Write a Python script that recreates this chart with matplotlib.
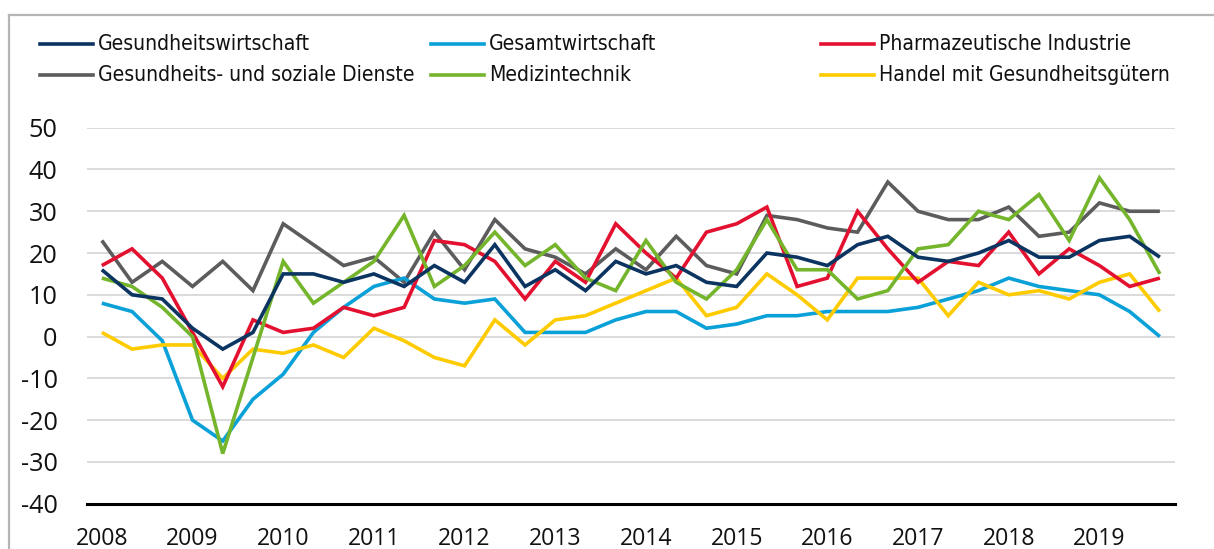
import matplotlib
matplotlib.use("Agg")
import matplotlib.pyplot as plt
from matplotlib.lines import Line2D
from matplotlib import font_manager
import numpy as np

plt.rcParams['axes.unicode_minus'] = False

years = list(range(2008, 2020))
points_per_year = 3

gesundheitswirtschaft = [16, 10, 9, 2, -3, 1, 15, 15, 13, 15, 12, 17, 13, 22, 12, 16, 11, 18,
                         15, 17, 13, 12, 20, 19, 17, 22, 24, 19, 18, 20, 23, 19, 19, 23, 24, 19]
gesamtwirtschaft = [8, 6, -1, -20, -25, -15, -9, 1, 7, 12, 14, 9, 8, 9, 1, 1, 1, 4,
                    6, 6, 2, 3, 5, 5, 6, 6, 6, 7, 9, 11, 14, 12, 11, 10, 6, 0]
pharma = [17, 21, 14, 1, -12, 4, 1, 2, 7, 5, 7, 23, 22, 18, 9, 18, 13, 27,
          20, 14, 25, 27, 31, 12, 14, 30, 21, 13, 18, 17, 25, 15, 21, 17, 12, 14]
soziale_dienste = [23, 13, 18, 12, 18, 11, 27, 22, 17, 19, 13, 25, 16, 28, 21, 19, 15, 21,
                   16, 24, 17, 15, 29, 28, 26, 25, 37, 30, 28, 28, 31, 24, 25, 32, 30, 30]
medizintechnik = [14, 12, 7, 0, -28, -5, 18, 8, 13, 18, 29, 12, 17, 25, 17, 22, 14, 11,
                  23, 13, 9, 16, 28, 16, 16, 9, 11, 21, 22, 30, 28, 34, 23, 38, 28, 15]
handel = [1, -3, -2, -2, -10, -3, -4, -2, -5, 2, -1, -5, -7, 4, -2, 4, 5, 8,
          11, 14, 5, 7, 15, 10, 4, 14, 14, 14, 5, 13, 10, 11, 9, 13, 15, 6]

series_names = ["Gesundheitswirtschaft", "Gesamtwirtschaft", "Pharmazeutische Industrie",
                "Gesundheits- und soziale Dienste", "Medizintechnik", "Handel mit Gesundheitsgütern"]
series_values = [gesundheitswirtschaft, gesamtwirtschaft, pharma,
                 soziale_dienste, medizintechnik, handel]
colors = ["#0b3461", "#0aa0d8", "#e3112f", "#5c5c5e", "#74b52c", "#fecb00"]

y_ticks = list(range(-40, 51, 10))

# pick a condensed face if one is installed
condensed = None
for f in font_manager.fontManager.ttflist:
    nm = f.name.lower()
    fn = f.fname.lower()
    if ("condensed" in fn or "narrow" in fn or "narrow" in nm or "condensed" in nm) \
            and "bold" not in fn and "oblique" not in fn and "italic" not in fn:
        condensed = f
        break

fig = plt.figure(figsize=(12.14, 5.49), dpi=100)
W, H = 1214, 549
ax = fig.add_axes([86.7 / W, 1 - 503.7 / H, (1175 - 86.7) / W, (503.7 - 127.7) / H])

x = np.arange(len(gesundheitswirtschaft))
order = [3, 1, 5, 2, 4, 0]
for k in order:
    ax.plot(x, series_values[k], color=colors[k], lw=2.6, solid_joinstyle='miter',
            solid_capstyle='butt', zorder=3)

ax.set_xlim(-0.5, len(x) - 0.5)
ax.set_ylim(-40, 50)
ax.set_yticks(y_ticks)
ax.set_yticklabels([str(v) for v in y_ticks])
ax.set_xticks([i * points_per_year for i in range(len(years))])
ax.set_xticklabels([str(y) for y in years])
ax.yaxis.grid(True, color="#d4d4d4", lw=1.2)
ax.set_axisbelow(True)
for s in ["top", "right", "left"]:
    ax.spines[s].set_visible(False)
ax.spines["bottom"].set_color("black")
ax.spines["bottom"].set_linewidth(2.2)
ax.spines["bottom"].set_zorder(4)
ax.tick_params(axis='y', length=0, pad=21, labelsize=18.2, labelcolor="#111111")
ax.tick_params(axis='x', length=0, pad=17, labelsize=16.6, labelcolor="#111111")
for lab in ax.get_xticklabels() + ax.get_yticklabels():
    lab.set_fontfamily(["Open Sans", "DejaVu Sans"])

# frame border
fig.add_artist(Line2D([9 / W, 1], [1 - 14.5 / H, 1 - 14.5 / H], color="#b5b5b5", lw=1.6,
                      transform=fig.transFigure))
fig.add_artist(Line2D([9 / W, 9 / W], [0, 1 - 14.5 / H], color="#b5b5b5", lw=1.6,
                      transform=fig.transFigure))

# legend (manual, fixed-width columns)
if condensed is not None:
    leg_font = dict(fontproperties=font_manager.FontProperties(fname=condensed.fname, size=15.1))
else:
    leg_font = dict(fontsize=13.5, family=["Roboto", "DejaVu Sans"])

col_handle_x = [40, 431, 821]
row_y = [44, 75]
legend_layout = [(0, 0, 0), (1, 0, 1), (2, 0, 2), (3, 1, 0), (4, 1, 1), (5, 1, 2)]
for k, r, c in legend_layout:
    x0 = col_handle_x[c]
    yy = 1 - row_y[r] / H
    fig.add_artist(Line2D([x0 / W, (x0 + 53) / W], [yy, yy], color=colors[k], lw=2.6,
                          transform=fig.transFigure))
    fig.text((x0 + 58) / W, yy, series_names[k], va='center', ha='left',
             color="#111111", **leg_font)

fig.savefig("out.png", dpi=100)
